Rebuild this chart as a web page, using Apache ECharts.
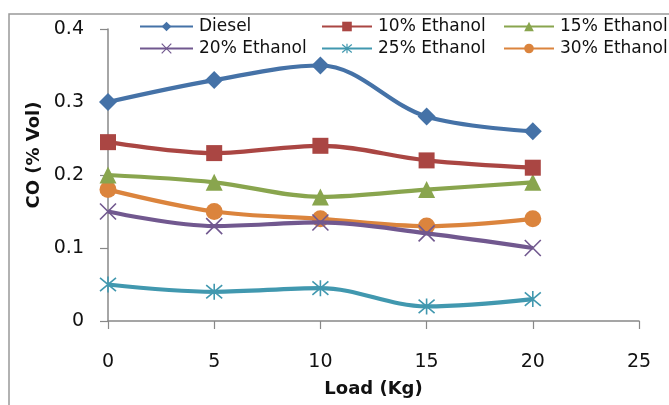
<!DOCTYPE html>
<html>
<head>
<meta charset="utf-8">
<script src="https://cdn.jsdelivr.net/npm/echarts@6/dist/echarts.min.js"></script>
<style>
  html, body { margin: 0; padding: 0; background: #fff; }
  #chart { width: 669px; height: 405px; }
</style>
</head>
<body>
<div id="chart"></div>
<script>
// Engine load (kg) on the x axis
const loads = [0, 5, 10, 15, 20];
const xTicks = [0, 5, 10, 15, 20, 25];
const yTicks = [0, 0.1, 0.2, 0.3, 0.4];

// CO emissions (% vol) per fuel blend
const diesel    = [0.30, 0.33, 0.35, 0.28, 0.26];
const ethanol10 = [0.245, 0.23, 0.24, 0.22, 0.21];
const ethanol15 = [0.20, 0.19, 0.17, 0.18, 0.19];
const ethanol20 = [0.15, 0.13, 0.135, 0.12, 0.10];
const ethanol25 = [0.05, 0.04, 0.045, 0.02, 0.03];
const ethanol30 = [0.18, 0.15, 0.14, 0.13, 0.14];

const seriesNames = ['Diesel', '10% Ethanol', '15% Ethanol', '20% Ethanol', '25% Ethanol', '30% Ethanol'];
const seriesData = [diesel, ethanol10, ethanol15, ethanol20, ethanol25, ethanol30];
const colors = ['#4572A7', '#AA4643', '#89A54E', '#71588F', '#4198AF', '#DB843D'];

const crossPath = 'path://M0,0L10,10M10,0L0,10';
const starPath = 'path://M0,0L10,10M10,0L0,10M5,-1L5,11';
const symbols = ['diamond', 'rect', 'triangle', crossPath, starPath, 'circle'];
const symbolSizes = [18, 16, 17, 16, 16, 17];

const FONT = 'DejaVu Sans';
const TEXT = '#111';

const series = seriesNames.map((name, i) => {
  const stroked = i === 3 || i === 4;
  return {
    name,
    type: 'line',
    smooth: 0.35,
    data: loads.map((x, j) => [x, seriesData[i][j]]),
    symbol: symbols[i],
    symbolSize: symbolSizes[i],
    z: 10 - i,
    lineStyle: { color: colors[i], width: 4.2 },
    itemStyle: stroked
      ? { color: 'rgba(0,0,0,0)', borderColor: colors[i], borderWidth: 1.6 }
      : { color: colors[i], borderWidth: 0 },
    emphasis: { disabled: true }
  };
});

// one legend per entry so the three-column layout is exact: [left, top, icon width]
const legendPos = [
  [139, 18, 53], [321, 18, 50], [503, 18, 50],
  [139, 40, 53], [321, 40, 50], [503, 40, 50]
];
const legends = seriesNames.map((name, i) => ({
  data: [{ name, itemStyle: { borderWidth: i === 3 || i === 4 ? 1.2 : 0 } }],
  left: legendPos[i][0],
  top: legendPos[i][1],
  padding: 0,
  itemWidth: legendPos[i][2],
  itemHeight: 12,
  itemGap: 4,
  textStyle: { fontFamily: FONT, fontSize: 17, color: TEXT, padding: [0, 0, 0, 1] },
  selectedMode: false
}));

const chart = echarts.init(document.getElementById('chart'), null, { renderer: 'canvas' });
chart.setOption({
  animation: false,
  backgroundColor: '#fff',
  grid: { left: 108, top: 29, right: 30, bottom: 84, containLabel: false, outerBoundsMode: 'none' },
  legend: legends,
  xAxis: {
    type: 'value',
    min: xTicks[0],
    max: xTicks[xTicks.length - 1],
    interval: 5,
    name: 'Load (Kg)',
    nameLocation: 'middle',
    nameGap: 59,
    nameTextStyle: { fontFamily: FONT, fontSize: 18, fontWeight: 'bold', color: TEXT },
    axisLine: { show: true, onZero: false, lineStyle: { color: '#888', width: 1.5 } },
    axisTick: { show: true, length: 8, lineStyle: { color: '#888', width: 1.2 } },
    axisLabel: { show: false },
    splitLine: { show: false }
  },
  yAxis: {
    type: 'value',
    min: yTicks[0],
    max: yTicks[yTicks.length - 1],
    interval: 0.1,
    axisLine: { show: true, onZero: false, lineStyle: { color: '#888', width: 1.5 } },
    axisTick: { show: true, length: 8, lineStyle: { color: '#888', width: 1.2 } },
    axisLabel: { fontFamily: FONT, fontSize: 19, color: TEXT, margin: 24,
      formatter: v => (v === 0 ? '0' : String(Math.round(v * 10) / 10)) },
    splitLine: { show: false }
  },
  series
});

// x tick labels sit well below the axis line; place them through the axis scale
const axisY = chart.convertToPixel({ yAxisIndex: 0 }, yTicks[0]);
const xLabelText = xTicks.map(v => ({
  type: 'text',
  x: chart.convertToPixel({ xAxisIndex: 0 }, v),
  y: axisY + 41,
  style: {
    text: String(v),
    fontFamily: FONT,
    fontSize: 19,
    fill: TEXT,
    align: 'center',
    verticalAlign: 'middle'
  },
  silent: true
}));

chart.setOption({
  graphic: [{
    type: 'rect',
    shape: { x: 9, y: 14, width: 720, height: 440 },
    style: { fill: 'none', stroke: '#999', lineWidth: 1.5 },
    silent: true,
    z: -1
  }, {
    // y-axis title
    type: 'text',
    x: 34,
    y: 155,
    rotation: Math.PI / 2,
    style: {
      text: 'CO (% Vol)',
      fontFamily: FONT,
      fontSize: 18,
      fontWeight: 'bold',
      fill: TEXT,
      align: 'center',
      verticalAlign: 'middle'
    },
    silent: true
  }].concat(xLabelText)
});
</script>
</body>
</html>
